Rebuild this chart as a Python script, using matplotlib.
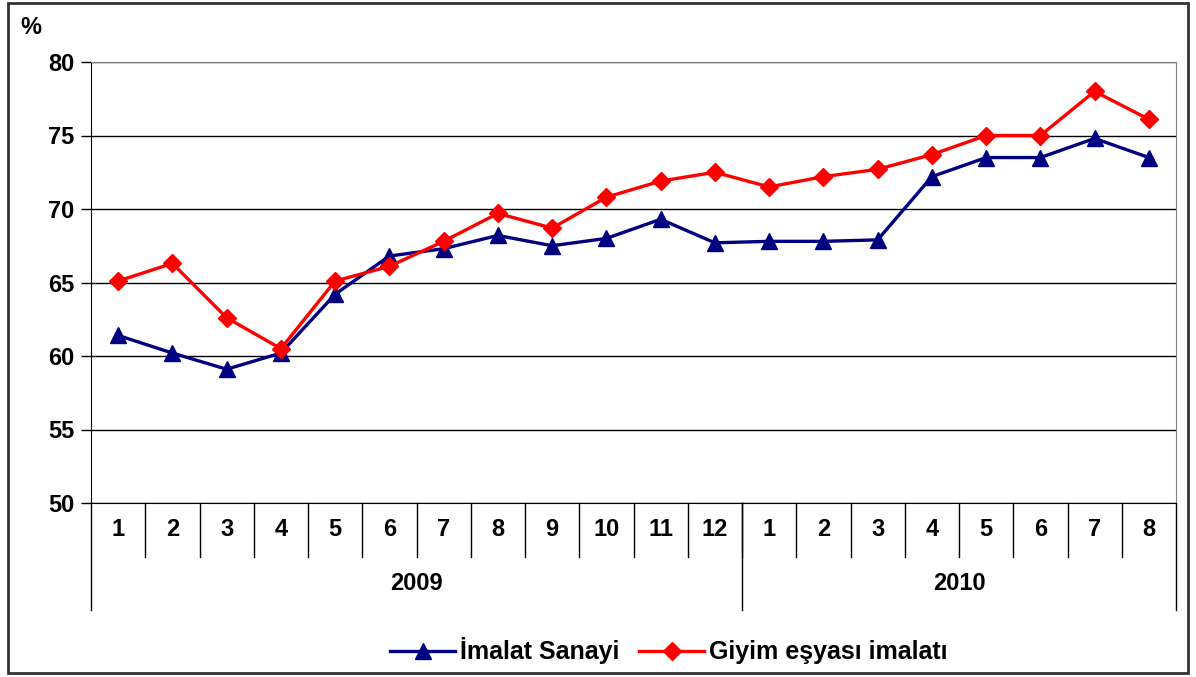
import matplotlib.pyplot as plt
import matplotlib.transforms as mtransforms
from matplotlib.patches import Rectangle

months = ["1", "2", "3", "4", "5", "6", "7", "8", "9", "10", "11", "12",
          "1", "2", "3", "4", "5", "6", "7", "8"]
years = ["2009", "2010"]
year_counts = [12, 8]

imalat = [61.4, 60.2, 59.1, 60.2, 64.2, 66.8, 67.3, 68.2, 67.5, 68.0,
          69.3, 67.7, 67.8, 67.8, 67.9, 72.2, 73.5, 73.5, 74.8, 73.5]
giyim = [65.1, 66.3, 62.6, 60.5, 65.1, 66.1, 67.8, 69.7, 68.7, 70.8,
         71.9, 72.5, 71.5, 72.2, 72.7, 73.7, 75.0, 75.0, 78.0, 76.1]

plt.rcParams['font.family'] = ['Liberation Sans', 'DejaVu Sans']
plt.rcParams['font.weight'] = 'bold'
fs = 17

fig = plt.figure(figsize=(11.96, 6.77), dpi=100)
ax = fig.add_axes([91/1196, 1 - 503/677, (1176 - 91)/1196, 441/677])

x = list(range(len(months)))
ax.plot(x, imalat, color='#000080', lw=2.4, marker='^', ms=12,
        label='İmalat Sanayi', zorder=3)
ax.plot(x, giyim, color='#ff0000', lw=2.4, marker='D', ms=9,
        label='Giyim eşyası imalatı', zorder=4)

ax.set_xlim(-0.5, len(months) - 0.5)
ax.set_ylim(50, 80)
ax.set_yticks([50, 55, 60, 65, 70, 75, 80])
ax.tick_params(axis='y', labelsize=fs, length=7, width=1, pad=5)
ax.tick_params(axis='x', length=0, labelbottom=False)
ax.yaxis.grid(True, color='black', lw=1)
ax.set_axisbelow(True)
for s in ['top', 'right']:
    ax.spines[s].set_color('#808080')
ax.spines['left'].set_color('black')
ax.spines['bottom'].set_color('black')

trans = mtransforms.blended_transform_factory(ax.transData, ax.transAxes)
row1 = -54/441
row2 = -107/441
for i, m in enumerate(months):
    ax.text(i, row1 / 2, m, transform=trans, ha='center', va='center', fontsize=fs)
for i in range(1, len(months)):
    ax.plot([i - 0.5, i - 0.5], [0, row1], transform=trans, color='black',
            lw=1, clip_on=False)
start = 0
ax.plot([-0.5, -0.5], [0, row2], transform=trans, color='black', lw=1, clip_on=False)
for yr, n in zip(years, year_counts):
    ax.text(start + n / 2 - 0.5, (row1 + row2) / 2, yr, transform=trans,
            ha='center', va='center', fontsize=fs)
    start += n
    ax.plot([start - 0.5, start - 0.5], [0, row2], transform=trans,
            color='black', lw=1, clip_on=False)

fig.text(20/1196, 1 - 28/677, '%', fontsize=fs, ha='left', va='center')

ax.legend(loc='center', bbox_to_anchor=(669/1196, 1 - 651/677),
          bbox_transform=fig.transFigure, ncol=2, frameon=False,
          fontsize=18, handlelength=2.6, columnspacing=0.8, handletextpad=0.2)

fig.patches.append(Rectangle((8/1196, 1 - 673/677), 1180/1196, 670/677,
                             transform=fig.transFigure, fill=False,
                             edgecolor='#333333', lw=2))

fig.savefig('out.png', dpi=100)
